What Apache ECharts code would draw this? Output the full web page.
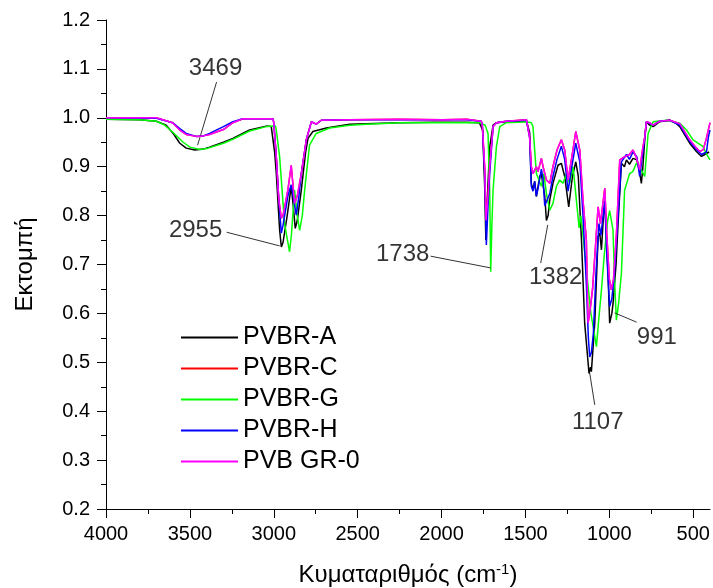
<!DOCTYPE html>
<html>
<head>
<meta charset="utf-8">
<script src="https://cdn.jsdelivr.net/npm/echarts@6/dist/echarts.min.js"></script>
<style>
  html, body { margin: 0; padding: 0; background: #fff; }
  #main { width: 713px; height: 588px; }
</style>
</head>
<body>
<div id="main"></div>
<script>
// series names, in the legend order
const seriesNames = ['PVBR-A', 'PVBR-C', 'PVBR-G', 'PVBR-H', 'PVB GR-0'];
const seriesColors = ['#000000', '#ff0000', '#00ff00', '#0000ff', '#ff00ff'];

// x tick labels (wavenumber, cm-1) and minor ticks
const xMajor = [4000, 3500, 3000, 2500, 2000, 1500, 1000, 500];
const xMinor = [3750, 3250, 2750, 2250, 1750, 1250, 750];

// [wavenumber, transmittance]
const dataA = [
  [4000, 0.997], [3800, 0.996], [3700, 0.993], [3641, 0.985], [3600, 0.968], [3560, 0.948],
  [3522, 0.938], [3470, 0.934], [3420, 0.936], [3383, 0.940], [3300, 0.950], [3244, 0.958],
  [3144, 0.975], [3045, 0.983], [3015, 0.982], [2995, 0.93], [2985, 0.886], [2965, 0.77],
  [2955, 0.736], [2945, 0.745], [2920, 0.80], [2896, 0.86], [2884, 0.82], [2872, 0.774],
  [2860, 0.79], [2836, 0.852], [2810, 0.93], [2796, 0.958], [2767, 0.972], [2687, 0.979],
  [2548, 0.987], [2448, 0.988], [2250, 0.99], [2053, 0.991], [1852, 0.991], [1775, 0.99],
  [1755, 0.975], [1743, 0.86], [1736, 0.75], [1728, 0.83], [1713, 0.94], [1693, 0.985],
  [1673, 0.99], [1614, 0.992], [1494, 0.993], [1475, 0.97], [1465, 0.866], [1455, 0.852],
  [1445, 0.87], [1435, 0.839], [1415, 0.88], [1405, 0.885], [1385, 0.84], [1375, 0.79],
  [1365, 0.80], [1355, 0.832], [1336, 0.866], [1306, 0.903], [1286, 0.907], [1266, 0.88],
  [1242, 0.818], [1220, 0.88], [1200, 0.91], [1185, 0.88], [1166, 0.75], [1147, 0.58],
  [1121, 0.477], [1112, 0.49], [1107, 0.481], [1087, 0.58], [1067, 0.757], [1057, 0.764],
  [1047, 0.73], [1035, 0.80], [1027, 0.83], [1018, 0.76], [1008, 0.682], [998, 0.58],
  [985, 0.60], [978, 0.62], [960, 0.70], [948, 0.784], [928, 0.907], [910, 0.90],
  [898, 0.914], [880, 0.905], [859, 0.917], [836, 0.914], [820, 0.89], [809, 0.866],
  [800, 0.90], [789, 0.955], [779, 0.992], [760, 0.985], [739, 0.982], [700, 0.992],
  [640, 0.995], [600, 0.988], [580, 0.982], [521, 0.948], [481, 0.931], [451, 0.921],
  [421, 0.927], [405, 0.93]
];

const dataG = [
  [4000, 0.997], [3800, 0.996], [3700, 0.993], [3650, 0.985], [3600, 0.97], [3540, 0.95],
  [3500, 0.94], [3440, 0.935], [3400, 0.937], [3300, 0.948], [3244, 0.956], [3144, 0.973],
  [3045, 0.982], [2990, 0.983], [2985, 0.975], [2965, 0.92], [2936, 0.784], [2906, 0.726],
  [2895, 0.76], [2876, 0.852], [2860, 0.80], [2846, 0.77], [2830, 0.80], [2816, 0.852],
  [2787, 0.944], [2747, 0.968], [2667, 0.979], [2548, 0.985], [2448, 0.987], [2250, 0.99],
  [2053, 0.99], [1852, 0.99], [1773, 0.99], [1740, 0.985], [1723, 0.968], [1713, 0.852],
  [1707, 0.685], [1700, 0.78], [1693, 0.852], [1673, 0.941], [1653, 0.982], [1614, 0.99],
  [1494, 0.992], [1465, 0.99], [1455, 0.982], [1445, 0.934], [1435, 0.886], [1420, 0.873],
  [1405, 0.86], [1390, 0.886], [1375, 0.845], [1355, 0.811], [1336, 0.825], [1316, 0.859],
  [1296, 0.873], [1276, 0.866], [1256, 0.886], [1236, 0.866], [1216, 0.9], [1196, 0.83],
  [1180, 0.775], [1170, 0.80], [1160, 0.77], [1140, 0.70], [1110, 0.60], [1090, 0.56],
  [1077, 0.532], [1065, 0.58], [1047, 0.648], [1030, 0.72], [1010, 0.79], [998, 0.81],
  [988, 0.79], [978, 0.77], [968, 0.66], [958, 0.586], [945, 0.62], [928, 0.682],
  [909, 0.852], [879, 0.886], [860, 0.89], [839, 0.907], [820, 0.90], [809, 0.893],
  [789, 0.88], [769, 0.968], [739, 0.992], [660, 0.995], [580, 0.989], [540, 0.975],
  [501, 0.955], [441, 0.941], [420, 0.925], [400, 0.914]
];

const dataH = [
  [4000, 1.0], [3700, 0.999], [3603, 0.99], [3560, 0.978], [3522, 0.968], [3462, 0.962],
  [3420, 0.963], [3383, 0.968], [3300, 0.982], [3244, 0.992], [3184, 0.998], [3005, 0.998],
  [3000, 0.99], [2985, 0.92], [2970, 0.832], [2955, 0.764], [2945, 0.78], [2916, 0.84],
  [2896, 0.863], [2880, 0.83], [2866, 0.801], [2850, 0.84], [2836, 0.886], [2806, 0.955],
  [2776, 0.992], [2747, 0.987], [2717, 0.995], [2548, 0.996], [2250, 0.996], [2000, 0.996],
  [1850, 0.996], [1763, 0.993], [1757, 0.985], [1743, 0.886], [1733, 0.74], [1723, 0.82],
  [1713, 0.886], [1693, 0.982], [1673, 0.99], [1614, 0.993], [1494, 0.995], [1475, 0.96],
  [1465, 0.86], [1455, 0.85], [1445, 0.87], [1435, 0.84], [1425, 0.855], [1405, 0.895],
  [1395, 0.875], [1385, 0.82], [1375, 0.82], [1355, 0.845], [1336, 0.88], [1312, 0.915],
  [1286, 0.942], [1266, 0.915], [1246, 0.85], [1226, 0.895], [1200, 0.948], [1176, 0.91],
  [1157, 0.80], [1137, 0.66], [1125, 0.55], [1117, 0.511], [1107, 0.52], [1095, 0.56],
  [1080, 0.68], [1062, 0.784], [1050, 0.76], [1037, 0.80], [1027, 0.83], [1015, 0.72],
  [998, 0.614], [985, 0.63], [970, 0.68], [948, 0.80], [928, 0.91], [898, 0.925],
  [880, 0.915], [859, 0.93], [836, 0.92], [819, 0.88], [800, 0.93], [789, 0.96],
  [779, 0.992], [739, 0.985], [700, 0.993], [640, 0.995], [580, 0.985], [521, 0.952],
  [481, 0.935], [451, 0.925], [421, 0.93], [410, 0.96], [400, 0.975]
];

const dataGR0 = [
  [4000, 1.0], [3700, 1.0], [3603, 0.99], [3560, 0.975], [3522, 0.966], [3462, 0.962],
  [3420, 0.963], [3383, 0.966], [3300, 0.976], [3244, 0.99], [3184, 0.998], [3005, 0.998],
  [3000, 0.99], [2985, 0.92], [2970, 0.832], [2955, 0.795], [2945, 0.80], [2916, 0.852],
  [2896, 0.903], [2885, 0.86], [2876, 0.825], [2860, 0.84], [2836, 0.886], [2806, 0.955],
  [2776, 0.992], [2747, 0.987], [2717, 0.995], [2548, 0.996], [2250, 0.997], [2000, 0.996],
  [1850, 0.997], [1763, 0.993], [1757, 0.985], [1743, 0.9], [1735, 0.79], [1723, 0.84],
  [1713, 0.9], [1693, 0.982], [1673, 0.99], [1614, 0.993], [1494, 0.996], [1475, 0.96],
  [1465, 0.9], [1455, 0.886], [1435, 0.9], [1425, 0.89], [1405, 0.917], [1395, 0.9],
  [1375, 0.873], [1355, 0.866], [1336, 0.9], [1312, 0.934], [1286, 0.955], [1266, 0.934],
  [1246, 0.873], [1226, 0.914], [1200, 0.972], [1176, 0.934], [1157, 0.832], [1137, 0.75],
  [1127, 0.58], [1117, 0.60], [1100, 0.65], [1080, 0.75], [1067, 0.818], [1053, 0.784],
  [1040, 0.82], [1027, 0.856], [1015, 0.76], [1000, 0.67], [988, 0.648], [975, 0.67],
  [958, 0.76], [938, 0.914], [910, 0.92], [880, 0.925], [859, 0.934], [840, 0.92],
  [819, 0.893], [800, 0.94], [789, 0.96], [779, 0.992], [760, 0.99], [739, 0.985],
  [700, 0.993], [640, 0.995], [580, 0.988], [521, 0.955], [481, 0.938], [461, 0.931],
  [440, 0.935], [420, 0.96], [400, 0.99]
];

// PVBR-C is never visible in the picture: it lies under PVB GR-0
const dataC = dataGR0;

// peak labels: [text, label wavenumber, label value, leader start wn, start value, peak wn, peak value]
const peakLabels = [
  ['3469', 3347, 1.102, 3341, 1.073, 3454, 0.944],
  ['2955', 3466, 0.769, 3281, 0.766, 2965, 0.738],
  ['1738', 2232, 0.721, 2065, 0.717, 1707, 0.693],
  ['1382', 1320, 0.674, 1409, 0.703, 1367, 0.781],
  ['1107', 1069, 0.378, 1087, 0.413, 1117, 0.478],
  ['991', 717, 0.550, 837, 0.582, 968, 0.601]
];

const chart = echarts.init(document.getElementById('main'));
const font = 'Liberation Sans, Arial, sans-serif';
const allData = [dataA, dataC, dataG, dataH, dataGR0];

const series = seriesNames.map((name, i) => ({
  name: name,
  type: 'line',
  data: allData[i],
  symbol: 'none',
  lineStyle: { color: seriesColors[i], width: 1.5 },
  itemStyle: { color: seriesColors[i] },
  z: 2 + i
}));

// annotation texts + leader lines
series.push({
  type: 'scatter',
  symbolSize: 0,
  silent: true,
  z: 20,
  data: peakLabels.map(p => [p[1], p[2], p[0]]),
  label: {
    show: true,
    position: 'inside',
    formatter: p => p.value[2],
    fontFamily: font,
    fontSize: 24,
    color: '#000'
  },
  markLine: {
    silent: true,
    symbol: ['none', 'none'],
    animation: false,
    label: { show: false },
    lineStyle: { color: '#333', width: 1, type: 'solid' },
    data: peakLabels.map(p => [{ coord: [p[3], p[4]] }, { coord: [p[5], p[6]] }])
  }
});

chart.setOption({
  animation: false,
  backgroundColor: '#fff',
  grid: { left: 106, right: 3, top: 20, bottom: 79, containLabel: false, outerBoundsMode: 'none' },
  legend: {
    data: seriesNames.map((n, i) => ({ name: n, icon: 'rect', itemStyle: { color: seriesColors[i] } })),
    orient: 'vertical',
    left: 176,
    top: 320,
    itemWidth: 57,
    itemHeight: 2,
    itemGap: 6,
    textStyle: { fontFamily: font, fontSize: 25, lineHeight: 25, color: '#000' }
  },
  xAxis: [
    {
      type: 'value',
      inverse: true,
      min: 400,
      max: 4000,
      name: 'Κυματαριθμός (cm{sup|-1})',
      nameLocation: 'middle',
      nameGap: 53,
      nameTextStyle: {
        fontFamily: font, fontSize: 24, color: '#000',
        rich: { sup: { fontFamily: font, fontSize: 15, color: '#000', verticalAlign: 'top', padding: [0, 0, 12, 0] } }
      },
      axisLine: { show: true, lineStyle: { color: '#000', width: 1 } },
      axisTick: { show: true, length: 9, customValues: xMajor, lineStyle: { color: '#000' } },
      axisLabel: { customValues: xMajor, margin: 15, fontFamily: font, fontSize: 20, color: '#000', formatter: v => String(v) },
      splitLine: { show: false }
    },
    {
      type: 'value',
      inverse: true,
      min: 400,
      max: 4000,
      position: 'bottom',
      axisLine: { show: false },
      axisTick: { show: true, length: 5, customValues: xMinor, lineStyle: { color: '#000' } },
      axisLabel: { show: false },
      splitLine: { show: false }
    }
  ],
  yAxis: {
    type: 'value',
    min: 0.2,
    max: 1.2,
    interval: 0.1,
    name: 'Εκτομπή',
    nameLocation: 'middle',
    nameGap: 69,
    nameTextStyle: { fontFamily: font, fontSize: 24, color: '#000' },
    axisLine: { show: true, lineStyle: { color: '#000', width: 1 } },
    axisTick: { show: true, length: 9, lineStyle: { color: '#000' } },
    minorTick: { show: true, splitNumber: 2, length: 5, lineStyle: { color: '#000' } },
    axisLabel: { margin: 16, fontFamily: font, fontSize: 20, color: '#000', formatter: v => v.toFixed(1) },
    splitLine: { show: false }
  },
  series: series
});
</script>
</body>
</html>
